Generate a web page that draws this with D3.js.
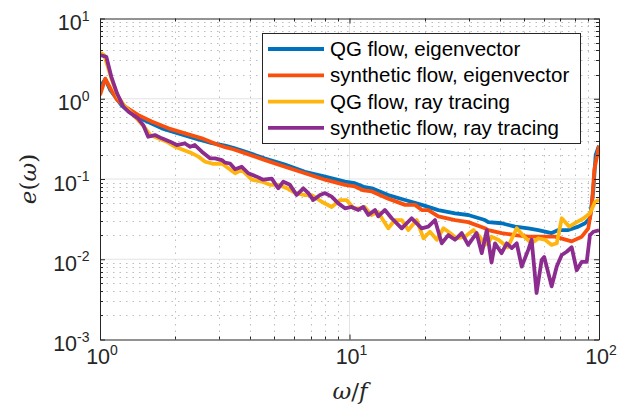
<!DOCTYPE html>
<html>
<head>
<meta charset="utf-8">
<script src="https://cdn.jsdelivr.net/npm/d3@7"></script>
<style>
  body { margin: 0; background: #fff; }
  svg { display: block; }
</style>
</head>
<body>
<svg id="spectrum" width="621" height="413"></svg>
<script>
// series: [omega/f, e(omega)]
var qgEigen = [[1, 1.41], [1.05, 1.75], [1.10, 1.28], [1.15, 1.06], [1.22, 0.83], [1.31, 0.69],
  [1.50, 0.544], [1.77, 0.428], [2.06, 0.37], [2.40, 0.321], [2.81, 0.28], [3.17, 0.26],
  [3.42, 0.245], [3.81, 0.22], [4.59, 0.18], [5.51, 0.151], [6.63, 0.123], [7.98, 0.107],
  [9.59, 0.0926], [10.5, 0.0887], [11.4, 0.08], [12.3, 0.0766], [14.3, 0.063], [16.7, 0.0547],
  [19.5, 0.0476], [22.7, 0.041], [26.5, 0.0374], [29.9, 0.0356], [34.9, 0.0308], [36, 0.029],
  [40.7, 0.0281], [46.1, 0.0255], [52.1, 0.0243], [57.1, 0.0231], [64.6, 0.0212], [68.7, 0.0231],
  [75.3, 0.0231], [82.6, 0.0255], [87.9, 0.0281], [92, 0.0324], [94.9, 0.073], [97, 0.2], [100, 0.26]];

var synEigen = [[1, 1.11], [1.05, 1.78], [1.11, 1.28], [1.17, 0.97], [1.26, 0.8], [1.42, 0.63],
  [1.61, 0.52], [1.88, 0.428], [2.19, 0.37], [2.56, 0.321], [2.98, 0.265], [3.17, 0.25],
  [3.42, 0.235], [3.81, 0.21], [4.59, 0.172], [5.51, 0.142], [6.63, 0.118], [7.98, 0.098],
  [9.59, 0.0846], [10.5, 0.0808], [11.4, 0.072], [12.3, 0.07], [14.3, 0.0569], [16.7, 0.0476],
  [18.3, 0.0476], [19.5, 0.041], [20.7, 0.041], [22.7, 0.0343], [26.5, 0.0308], [29.9, 0.029],
  [34.9, 0.0243], [36, 0.0231], [40.7, 0.0212], [46.1, 0.02], [52.1, 0.0191], [58.9, 0.0191],
  [66.6, 0.0191], [77.7, 0.0167], [85.3, 0.0191], [90.6, 0.0243], [93.5, 0.0448], [95.8, 0.131],
  [100, 0.26]];

var qgRay = [[1, 3.75], [1.04, 3.5], [1.11, 1.8], [1.18, 1.06], [1.26, 0.8], [1.34, 0.66],
  [1.42, 0.544], [1.52, 0.428], [1.59, 0.353], [1.71, 0.321], [1.85, 0.292], [2.0, 0.252],
  [2.16, 0.23], [2.33, 0.21], [2.48, 0.19], [2.64, 0.164], [2.85, 0.154], [3.08, 0.156],
  [3.27, 0.136], [3.48, 0.118], [3.70, 0.13], [4.06, 0.098], [4.45, 0.093], [4.80, 0.0846],
  [5.18, 0.0846], [5.60, 0.077], [6.05, 0.067], [6.63, 0.063], [7.06, 0.063], [7.74, 0.052],
  [8.48, 0.0448], [9.16, 0.0547], [9.74, 0.0547], [10.4, 0.043], [11.0, 0.043], [11.5, 0.0448],
  [12.25, 0.0356], [13.0, 0.0388], [14.3, 0.0243], [15.2, 0.0308], [16.2, 0.0308], [17.2, 0.0231],
  [18.6, 0.0308], [19.8, 0.0182], [21.0, 0.022], [22.4, 0.0175], [23.8, 0.0243], [25.3, 0.0212],
  [26.9, 0.0182], [29.0, 0.0191], [31.4, 0.0231], [33.3, 0.019], [34.9, 0.0151], [36.3, 0.0167],
  [37.1, 0.0191], [39.5, 0.0175], [43.1, 0.0141], [46.8, 0.0243], [50.1, 0.0191], [53.7, 0.0158],
  [57.1, 0.0182], [60.8, 0.0175], [64.6, 0.0151], [67.7, 0.0158], [70.9, 0.0324], [76, 0.0255],
  [81.4, 0.029], [86.9, 0.0324], [92, 0.0374], [96.5, 0.052], [100, 0.055]];

var synRay = [[1, 3.5], [1.06, 3.34], [1.11, 1.88], [1.17, 1.17], [1.24, 0.80], [1.30, 0.69],
  [1.42, 0.57], [1.49, 0.47], [1.56, 0.336], [1.66, 0.353], [1.77, 0.321], [1.91, 0.292],
  [2.03, 0.265], [2.19, 0.277], [2.30, 0.252], [2.40, 0.265], [2.56, 0.219], [2.76, 0.181],
  [2.89, 0.181], [3.08, 0.172], [3.17, 0.16], [3.32, 0.156], [3.48, 0.132], [3.70, 0.142],
  [3.93, 0.118], [4.25, 0.107], [4.51, 0.098], [4.88, 0.101], [5.18, 0.0766], [5.43, 0.0926],
  [5.77, 0.0846], [6.14, 0.0632], [6.53, 0.0766], [6.84, 0.0668], [7.16, 0.0547], [7.62, 0.0632],
  [7.98, 0.0668], [8.48, 0.0603], [9.02, 0.0497], [9.59, 0.0431], [10.2, 0.0448], [10.85, 0.0411],
  [11.36, 0.0448], [11.9, 0.0356], [12.65, 0.0411], [13.04, 0.0343], [13.87, 0.0411], [14.76, 0.0324],
  [16.19, 0.0243], [17.75, 0.0324], [19.46, 0.0243], [20.69, 0.0255], [22.01, 0.0308], [23.42, 0.0158],
  [24.89, 0.02], [26.48, 0.0175], [28.17, 0.0212], [29.9, 0.0151], [32.3, 0.0212], [33.9, 0.0119],
  [35.5, 0.0231], [37.1, 0.0091], [38.3, 0.0158], [40.7, 0.0119], [42.7, 0.0158], [44.7, 0.0138],
  [46.8, 0.0158], [49.0, 0.0081], [52.1, 0.0132], [53.7, 0.0175], [56.2, 0.0038], [58.9, 0.0098],
  [60.3, 0.0107], [64.6, 0.0046], [67.7, 0.0081], [70.9, 0.0113], [74.2, 0.0124], [77.7, 0.0141],
  [81.4, 0.0073], [85.3, 0.0093], [89.3, 0.0093], [92.0, 0.02], [94.9, 0.022], [100, 0.023]];

var seriesNames = ["QG flow, eigenvector", "synthetic flow, eigenvector",
                   "QG flow, ray tracing", "synthetic flow, ray tracing"];
var seriesData = [qgEigen, synEigen, qgRay, synRay];
var seriesColors = ["#0072BD", "#FA4E0C", "#FFB50F", "#8C2C8F"];

var xExps = [0, 1, 2];
var yExps = [-3, -2, -1, 0, 1];

(function spectrum() {
  var svg = d3.select("#spectrum"),
      left = 100, right = 599, top = 18.5, bottom = 339.5,
      axisColor = "#262626",
      font = "'Liberation Sans', Arial, Helvetica, sans-serif";

  var x = d3.scaleLog().domain([1, 100]).range([left, right]);
  var y = d3.scaleLog().domain([1e-3, 10]).range([bottom, top]);

  // minor values 2..9 in each decade
  var xMinor = [], yMinor = [];
  [1, 10].forEach(function(d) { for (var k = 2; k <= 9; k++) xMinor.push(d * k); });
  [1e-3, 1e-2, 1e-1, 1].forEach(function(d) { for (var k = 2; k <= 9; k++) yMinor.push(d * k); });

  var grid = svg.append("g");
  grid.selectAll(".gxm").data(xMinor).enter().append("line")
      .attr("x1", function(d) { return Math.round(x(d)) + 0.5; })
      .attr("x2", function(d) { return Math.round(x(d)) + 0.5; })
      .attr("y1", top).attr("y2", bottom)
      .attr("stroke", "#bdbdbd").attr("stroke-width", 1)
      .attr("stroke-dasharray", "1.5,5");
  grid.selectAll(".gym").data(yMinor).enter().append("line")
      .attr("y1", function(d) { return Math.round(y(d)) + 0.5; })
      .attr("y2", function(d) { return Math.round(y(d)) + 0.5; })
      .attr("x1", left).attr("x2", right)
      .attr("stroke", "#bdbdbd").attr("stroke-width", 1)
      .attr("stroke-dasharray", "1.5,5");
  grid.selectAll(".gxM").data([10]).enter().append("line")
      .attr("x1", x).attr("x2", x)
      .attr("y1", top).attr("y2", bottom)
      .attr("stroke", "#e3e3e3").attr("stroke-width", 1);
  grid.selectAll(".gyM").data([1e-2, 1e-1, 1]).enter().append("line")
      .attr("y1", y).attr("y2", y)
      .attr("x1", left).attr("x2", right)
      .attr("stroke", "#e3e3e3").attr("stroke-width", 1);

  // data lines
  var line = d3.line()
      .x(function(d) { return x(d[0]); })
      .y(function(d) { return y(d[1]); });

  svg.append("defs").append("clipPath").attr("id", "plotClip")
     .append("rect").attr("x", left).attr("y", top)
     .attr("width", right - left).attr("height", bottom - top);

  svg.append("g").attr("clip-path", "url(#plotClip)")
     .selectAll("path").data(seriesData).enter().append("path")
     .attr("d", line)
     .attr("fill", "none")
     .attr("stroke", function(d, i) { return seriesColors[i]; })
     .attr("stroke-width", 3.8)
     .attr("stroke-linejoin", "round");

  // axes box with inward ticks on all sides
  var xAxisB = d3.axisBottom(x).tickValues(xExps.map(function(e) { return Math.pow(10, e); }))
                 .tickSizeInner(-5).tickSizeOuter(0).tickFormat("");
  var xAxisT = d3.axisTop(x).tickValues(xExps.map(function(e) { return Math.pow(10, e); }))
                 .tickSizeInner(-5).tickSizeOuter(0).tickFormat("");
  var yAxisL = d3.axisLeft(y).tickValues(yExps.map(function(e) { return Math.pow(10, e); }))
                 .tickSizeInner(-5).tickSizeOuter(0).tickFormat("");
  var yAxisR = d3.axisRight(y).tickValues(yExps.map(function(e) { return Math.pow(10, e); }))
                 .tickSizeInner(-5).tickSizeOuter(0).tickFormat("");

  var gB = svg.append("g").attr("transform", "translate(0," + bottom + ")").call(xAxisB);
  var gT = svg.append("g").attr("transform", "translate(0," + top + ")").call(xAxisT);
  var gL = svg.append("g").attr("transform", "translate(" + left + ",0)").call(yAxisL);
  var gR = svg.append("g").attr("transform", "translate(" + right + ",0)").call(yAxisR);

  [gB, gT, gL, gR].forEach(function(g) {
    g.selectAll("path, line").attr("stroke", axisColor).attr("stroke-width", 1);
  });

  // minor ticks
  var minorT = svg.append("g").attr("stroke", axisColor).attr("stroke-width", 1);
  yMinor.forEach(function(v) {
    var py = Math.round(y(v)) + 0.5;
    minorT.append("line").attr("x1", left).attr("x2", left + 3).attr("y1", py).attr("y2", py);
    minorT.append("line").attr("x1", right).attr("x2", right - 3).attr("y1", py).attr("y2", py);
  });
  xMinor.forEach(function(v) {
    var px = Math.round(x(v)) + 0.5;
    minorT.append("line").attr("y1", bottom).attr("y2", bottom - 3).attr("x1", px).attr("x2", px);
    minorT.append("line").attr("y1", top).attr("y2", top + 3).attr("x1", px).attr("x2", px);
  });

  // tick labels 10^n
  var yLab = svg.append("g").attr("font-family", font).attr("fill", axisColor);
  yExps.forEach(function(e) {
    var t = yLab.append("text")
        .attr("x", 89.5).attr("y", y(Math.pow(10, e)) + 11.5)
        .attr("text-anchor", "end").attr("font-size", 21.5);
    t.append("tspan").text("10");
    t.append("tspan").attr("dy", -9.5).attr("font-size", 14).text(e < 0 ? "-" + (-e) : e);
  });
  var xLab = svg.append("g").attr("font-family", font).attr("fill", axisColor);
  xExps.forEach(function(e) {
    var t = xLab.append("text")
        .attr("x", x(Math.pow(10, e)) + 2).attr("y", 364)
        .attr("text-anchor", "middle").attr("font-size", 21.5);
    t.append("tspan").text("10");
    t.append("tspan").attr("dy", -9.5).attr("font-size", 14).text(e);
  });

  // axis titles (LaTeX-like)
  var serif = "'DejaVu Serif', 'Liberation Serif', serif";
  var xt = svg.append("text")
      .attr("x", 350).attr("y", 399)
      .attr("text-anchor", "middle")
      .attr("font-family", serif).attr("font-size", 23).attr("fill", axisColor);
  xt.append("tspan").attr("font-style", "italic").text("\u03C9");
  xt.append("tspan").text("/");
  xt.append("tspan").attr("font-style", "italic").text("f");

  var yt = svg.append("text")
      .attr("transform", "translate(36,179) rotate(-90)")
      .attr("text-anchor", "middle")
      .attr("font-family", serif).attr("font-size", 23).attr("fill", axisColor);
  yt.append("tspan").attr("font-style", "italic").text("e");
  yt.append("tspan").text("(");
  yt.append("tspan").attr("font-style", "italic").text("\u03C9");
  yt.append("tspan").text(")");

  // legend
  var leg = svg.append("g");
  leg.append("rect")
     .attr("x", 262.5).attr("y", 33.5).attr("width", 318).attr("height", 110)
     .attr("fill", "#fff").attr("stroke", axisColor).attr("stroke-width", 1);
  var item = leg.selectAll(".item").data(seriesNames).enter().append("g")
     .attr("transform", function(d, i) { return "translate(0," + (49 + i * 26.3) + ")"; });
  item.append("line")
      .attr("x1", 268).attr("x2", 324)
      .attr("stroke", function(d, i) { return seriesColors[i]; })
      .attr("stroke-width", 3.8);
  item.append("text")
      .attr("x", 330).attr("y", 7)
      .attr("font-family", font).attr("font-size", 20.5).attr("fill", "#000")
      .text(function(d) { return d; });
}());
</script>
</body>
</html>
